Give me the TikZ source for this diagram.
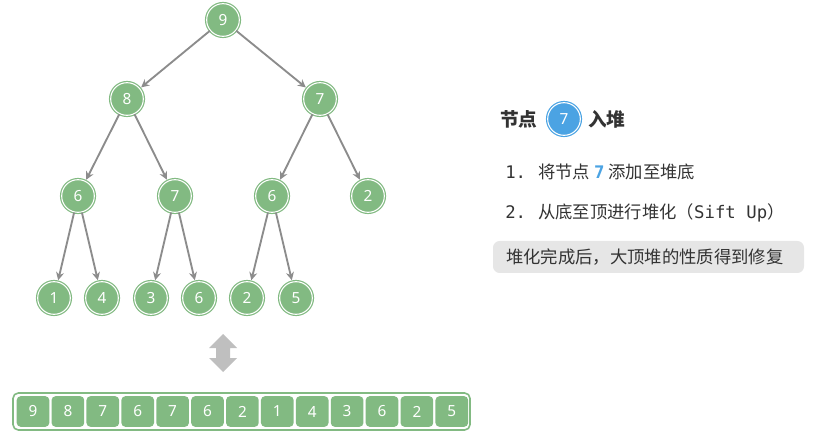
\documentclass[tikz,border=0pt]{standalone}
\usepackage{fontspec}
\setsansfont{Noto Sans}
\setmonofont{DejaVu Sans Mono}
\newfontfamily\cjk{Noto Sans CJK SC}
\usetikzlibrary{arrows.meta}
\definecolor{heapgreen}{HTML}{82BA82}
\definecolor{edgegray}{HTML}{8C8C8C}
\definecolor{hiblue}{HTML}{4BA3E3}
\definecolor{notegray}{HTML}{E6E6E6}
\tikzset{
  hnode/.style={circle, minimum size=24.5pt, inner sep=0pt, fill=heapgreen,
    draw=heapgreen, double=white, double distance=0.8pt, line width=0.9pt,
    text=white, font=\sffamily\fontsize{11.5}{11.5}\selectfont},
  hedge/.style={edgegray, line width=1.4pt, -{Stealth[length=6pt,width=6pt]}, shorten >=1pt},
  cell/.style={rounded corners=3pt, fill=heapgreen, minimum width=24.5pt,
    minimum height=23pt, inner sep=0pt, text=white, font=\sffamily\fontsize{11.5}{11.5}\selectfont},
  txt/.style={anchor=west, inner sep=0pt, font=\cjk\fontsize{13}{13}\selectfont, text=black!80}
}
\begin{document}
\begin{tikzpicture}[x=0.75pt,y=-0.75pt]
  \useasboundingbox (0,0) rectangle (821,445);
  % tree
  \node[hnode] (n0) at (223,20) {9};
  \node[hnode] (n1) at (127,99) {8};
  \node[hnode] (n2) at (320,99) {7};
  \node[hnode] (n3) at (78,196) {6};
  \node[hnode] (n4) at (175,196) {7};
  \node[hnode] (n5) at (272,196) {6};
  \node[hnode] (n6) at (368,196) {2};
  \node[hnode] (n7) at (54,298) {1};
  \node[hnode] (n8) at (102,298) {4};
  \node[hnode] (n9) at (151,298) {3};
  \node[hnode] (n10) at (199,298) {6};
  \node[hnode] (n11) at (247,298) {2};
  \node[hnode] (n12) at (296,298) {5};
  \foreach \p/\c in {n0/n1,n0/n2,n1/n3,n1/n4,n2/n5,n2/n6,n3/n7,n3/n8,n4/n9,n4/n10,n5/n11,n5/n12}
    \draw[hedge] (\p) -- (\c);
  % tree <-> array
  \fill[black!25] (223,334) -- (237,348) -- (230,348) -- (230,358) -- (237,358)
    -- (223,372) -- (209,358) -- (216,358) -- (216,348) -- (209,348) -- cycle;
  % array
  \draw[heapgreen, line width=1.2pt, rounded corners=4pt] (13,393) rectangle (470,430);
  \foreach \v [count=\i from 0] in {9,8,7,6,7,6,2,1,4,3,6,2,5}
    \node[cell] (a\i) at (33+34.9*\i,411.5) {\v};
  % notes
  \node[txt, font=\cjk\bfseries\fontsize{14}{14}\selectfont] (title) at (500,119) {节点};
  \node[hnode, fill=hiblue, draw=hiblue] (new) at (564,119) {7};
  \node[txt, font=\cjk\bfseries\fontsize{14}{14}\selectfont] (title2) at (588,119) {入堆};
  \node[txt] (s1) at (505,172) {\ttfamily 1.\hspace{9pt}\cjk 将节点 \textcolor{hiblue}{\ttfamily\bfseries 7} 添加至堆底};
  \node[txt] (s2) at (505,213) {\ttfamily 2.\hspace{9pt}\cjk 从底至顶进行堆化（\ttfamily Sift Up\cjk ）};
  \fill[notegray, rounded corners=5pt] (493,241) rectangle (804,273);
  \node[txt] (note) at (506,257) {堆化完成后，大顶堆的性质得到修复};
\end{tikzpicture}
\end{document}
